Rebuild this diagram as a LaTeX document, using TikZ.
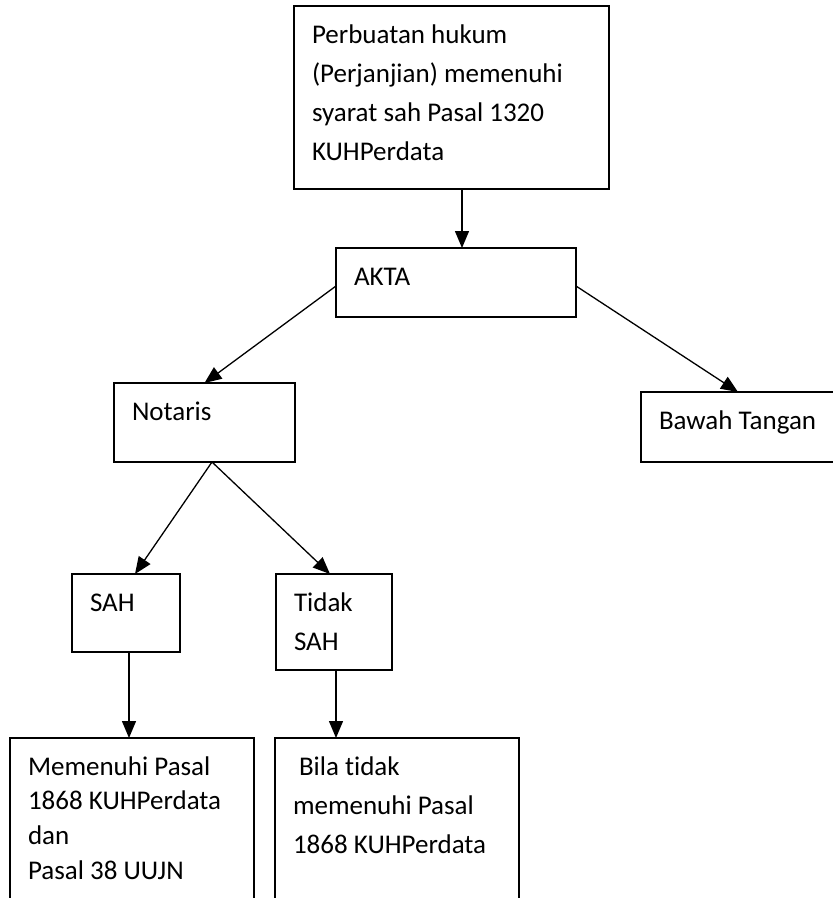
\documentclass[tikz,border=0pt]{standalone}
\usepackage{fontspec}
\setmainfont{Carlito}[Ligatures=NoCommon]
\usetikzlibrary{arrows.meta}

\newcommand{\isikotak}[4][39pt]{\parbox[t][#3][t]{#2}{\fontsize{27pt}{#1}\selectfont\raggedright\rule{0pt}{37pt}#4}}

\begin{document}
\begin{tikzpicture}[x=1pt, y=-1pt,
  kotak/.style={draw, line width=1.5pt, anchor=north west, inner xsep=18pt, inner ysep=0pt, outer sep=0pt},
  panah/.style={-{Triangle[length=17pt, width=14pt]}, line width=1.3pt}]
\useasboundingbox (0,0) rectangle (833,898);
\clip (0,0) rectangle (833,898);
\node[kotak] (atas) at (294,6) {\isikotak{279pt}{183pt}{Perbuatan hukum\\(Perjanjian) memenuhi\\syarat sah Pasal 1320\\KUHPerdata}};
\node[kotak] (akta) at (336,248) {\isikotak{204pt}{69pt}{AKTA}};
\node[kotak] (notaris) at (114,383) {\isikotak{145pt}{79pt}{Notaris}};
\node[kotak] (bawah) at (641,392) {\isikotak{170pt}{70pt}{Bawah Tangan}};
\node[kotak] (sah) at (72,574) {\isikotak{72pt}{78pt}{SAH}};
\node[kotak] (tidak) at (276,574) {\isikotak{80pt}{96pt}{Tidak\\SAH}};
\node[kotak] (memenuhi) at (10,738) {\isikotak[34.7pt]{208pt}{200pt}{Memenuhi Pasal\\1868 KUHPerdata\\dan\\Pasal 38 UUJN}};
\node[kotak] (bila) at (275,738) {\isikotak{208pt}{200pt}{\hspace*{6pt}Bila tidak\\memenuhi Pasal\\1868 KUHPerdata}};
% panah
\draw[panah] ([xshift=10.5pt]atas.south) -- ([xshift=6pt]akta.north);
\draw[panah] ([yshift=-3.5pt]akta.west) -- (notaris.north);
\draw[panah] ([yshift=-3.5pt]akta.east) -- ([xshift=-6pt]bawah.north);
\draw[panah] ([xshift=7.5pt]notaris.south) -- ([xshift=9pt]sah.north);
\draw[panah] ([xshift=7.5pt]notaris.south) -- ([xshift=-4pt]tidak.north);
\draw[panah] ([xshift=3pt]sah.south) -- ([xshift=-3pt]memenuhi.north);
\draw[panah] ([xshift=2pt]tidak.south) -- ([xshift=-61pt]bila.north);
\end{tikzpicture}
\end{document}
